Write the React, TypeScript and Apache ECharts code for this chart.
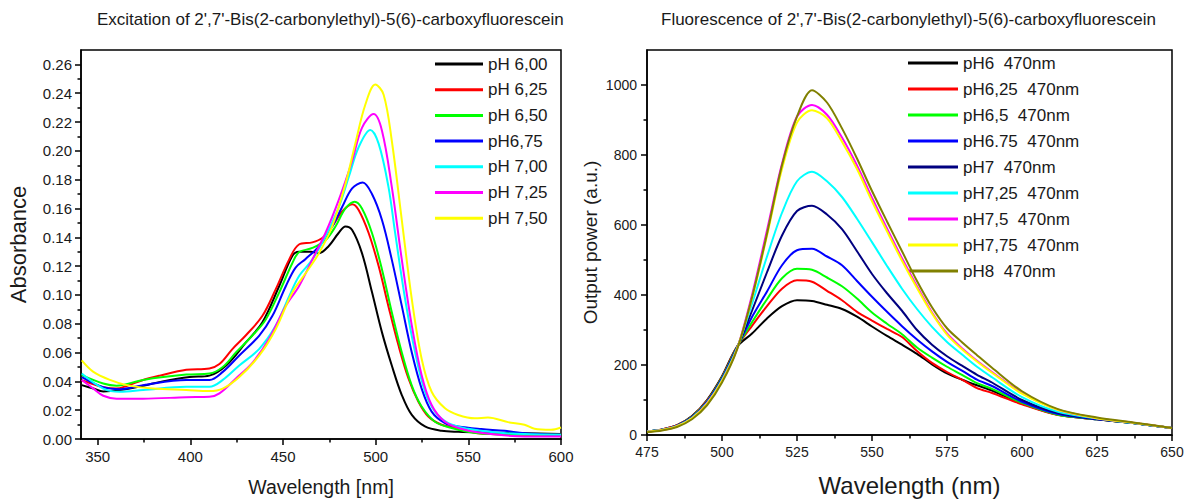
import React, { useEffect, useRef } from "react";
import * as echarts from "echarts";

const FONT = "'Liberation Sans', Arial, Helvetica, sans-serif";
const INK = "#1a1a1a";

// ---------- Left chart: excitation (absorbance vs wavelength) ----------
const excTitle = "Excitation of 2',7'-Bis(2-carbonylethyl)-5(6)-carboxyfluorescein";
const excNames = ["pH 6,00", "pH 6,25", "pH 6,50", "pH6,75", "pH 7,00", "pH 7,25", "pH 7,50"];
const excColors = ["#000000", "#ff0000", "#00ff00", "#0000ff", "#00ffff", "#ff00ff", "#ffff00"];
const excXMajor = [350, 400, 450, 500, 550, 600];
const excXMinor = [375, 425, 475, 525, 575];
const excYMajor = [0, 0.02, 0.04, 0.06, 0.08, 0.1, 0.12, 0.14, 0.16, 0.18, 0.2, 0.22, 0.24, 0.26];
const excYMinor = [0.01, 0.03, 0.05, 0.07, 0.09, 0.11, 0.13, 0.15, 0.17, 0.19, 0.21, 0.23, 0.25];

const abs600: [number, number][] = [
  [341.4, 0.0374], [347.7, 0.035], [353, 0.033], [362, 0.034], [374.5, 0.037], [385, 0.04], [399.6, 0.043],
  [410.3, 0.044], [419.3, 0.051], [430, 0.067], [438.9, 0.081], [447.9, 0.106], [455, 0.127], [458.6, 0.13],
  [465, 0.13], [469.4, 0.129], [474.7, 0.134], [480, 0.143], [483.7, 0.1475], [487.3, 0.145], [492.6, 0.129],
  [498, 0.102], [503.4, 0.074], [508.7, 0.051], [514.1, 0.0305], [519.5, 0.0167], [526.6, 0.0087],
  [535.6, 0.0057], [544.5, 0.005], [560, 0.0045], [580, 0.004], [600, 0.0035],
];
const abs625: [number, number][] = [
  [341.4, 0.0408], [347.7, 0.038], [353, 0.036], [360, 0.035], [366, 0.037], [374.5, 0.041], [383.5, 0.044],
  [397.8, 0.048], [410.3, 0.049], [415.7, 0.052], [422.8, 0.0626], [430, 0.072], [438.9, 0.0855],
  [446.1, 0.104], [453.3, 0.1245], [458.6, 0.135], [465.8, 0.1365], [471.2, 0.1395], [476.5, 0.1475],
  [481.9, 0.158], [487.3, 0.163], [490.8, 0.159], [496.2, 0.143], [501.6, 0.12], [506.9, 0.092],
  [512.3, 0.065], [517.7, 0.042], [523, 0.026], [528.4, 0.0156], [535.6, 0.0099], [544.5, 0.0076],
  [555.3, 0.004], [575, 0.0032], [600, 0.003],
];
const abs650: [number, number][] = [
  [341.4, 0.0443], [353, 0.0385], [360.2, 0.037], [374.5, 0.041], [397.8, 0.0447], [410.3, 0.0454],
  [417.5, 0.05], [424.6, 0.06], [433.6, 0.072], [440.7, 0.083], [447.9, 0.1016], [455, 0.122],
  [458.6, 0.1296], [465.8, 0.1326], [472.9, 0.138], [478.3, 0.1475], [483.7, 0.16], [488.7, 0.1647],
  [492.6, 0.16], [498, 0.143], [503.4, 0.1177], [508.7, 0.088], [514.1, 0.06], [519.5, 0.037],
  [524.8, 0.0225], [532, 0.012], [541, 0.0076], [555.3, 0.004], [575, 0.0032], [600, 0.003],
];
const abs675: [number, number][] = [
  [341.4, 0.043], [353, 0.036], [362, 0.0346], [374.5, 0.0374], [397.8, 0.041], [410.3, 0.041],
  [417.5, 0.0466], [426.4, 0.058], [437.2, 0.0718], [444.3, 0.0855], [451.5, 0.106], [456.8, 0.119],
  [462.2, 0.125], [469.4, 0.1337], [476.5, 0.1475], [481.9, 0.161], [487.3, 0.174], [493, 0.178],
  [498, 0.17], [503.4, 0.152], [508.7, 0.1245], [514.1, 0.0924], [519.5, 0.06], [524.8, 0.035],
  [530.2, 0.019], [537.4, 0.011], [544.5, 0.0087], [557, 0.0069], [569.6, 0.0057], [580.3, 0.004],
  [600, 0.003],
];
const abs700: [number, number][] = [
  [341.4, 0.0454], [353, 0.035], [362, 0.0328], [374.5, 0.034], [397.8, 0.0362], [410.3, 0.0362],
  [417.5, 0.041], [426.4, 0.051], [437.2, 0.0626], [446.1, 0.0787], [453.3, 0.099], [458.6, 0.113],
  [465.8, 0.1245], [472.9, 0.1406], [480.1, 0.161], [485.5, 0.182], [490.8, 0.2025], [497.1, 0.2145],
  [501.6, 0.205], [506.9, 0.175], [510.5, 0.143], [515.9, 0.097], [521.3, 0.06], [526.6, 0.0328],
  [532, 0.019], [539.2, 0.011], [549.9, 0.0071], [562.4, 0.0048], [580.3, 0.0034], [600, 0.003],
];
const abs725: [number, number][] = [
  [341.4, 0.041], [347.7, 0.035], [353, 0.03], [360.2, 0.028], [374.5, 0.028], [397.8, 0.029],
  [410.3, 0.0293], [415.7, 0.0317], [424.6, 0.042], [433.6, 0.053], [442.5, 0.0695], [451.5, 0.0924],
  [458.6, 0.106], [465.8, 0.1245], [472.9, 0.143], [480.1, 0.166], [487.3, 0.193], [492.6, 0.216],
  [498.9, 0.2255], [503.4, 0.214], [508.7, 0.175], [514.1, 0.1245], [519.5, 0.0787], [524.8, 0.0443],
  [530.2, 0.0236], [537.4, 0.012], [548.1, 0.0064], [562.4, 0.0034], [580.3, 0.0018], [600, 0.0018],
];
const abs750: [number, number][] = [
  [341.4, 0.0546], [347.7, 0.0466], [356.6, 0.041], [365.6, 0.0374], [379.9, 0.035], [397.8, 0.034],
  [410.3, 0.0333], [417.5, 0.035], [426.4, 0.043], [437.2, 0.058], [446.1, 0.0764], [455, 0.1016],
  [462.2, 0.115], [469.4, 0.129], [476.5, 0.1475], [483.7, 0.177], [489, 0.205], [494.4, 0.232],
  [499.8, 0.246], [504.3, 0.239], [508.7, 0.207], [514.1, 0.152], [519.5, 0.097], [524.8, 0.0557],
  [530.2, 0.0328], [537.4, 0.0213], [544.5, 0.0167], [553.5, 0.0144], [560.6, 0.0149], [571.4, 0.0117],
  [580.3, 0.0099], [585.7, 0.0071], [594.6, 0.0064], [600, 0.008],
];
const excData = [abs600, abs625, abs650, abs675, abs700, abs725, abs750];

// ---------- Right chart: fluorescence (output power vs wavelength) ----------
const flTitle = "Fluorescence of 2',7'-Bis(2-carbonylethyl)-5(6)-carboxyfluorescein";
const flNames = [
  "pH6  470nm", "pH6,25  470nm", "pH6,5  470nm", "pH6.75  470nm", "pH7  470nm",
  "pH7,25  470nm", "pH7,5  470nm", "pH7,75  470nm", "pH8  470nm",
];
const flColors = ["#000000", "#ff0000", "#00ff00", "#0000ff", "#000080", "#00ffff", "#ff00ff", "#ffff00", "#808000"];
const flXMajor = [475, 500, 525, 550, 575, 600, 625, 650];
const flXMinor = [487.5, 512.5, 537.5, 562.5, 587.5, 612.5, 637.5];
const flYMajor = [0, 200, 400, 600, 800, 1000];
const flYMinor = [100, 300, 500, 700, 900];

const flWavelength = [475, 480, 485, 490, 495, 500, 505, 510, 515, 520, 525, 530, 535, 540, 545, 550, 555, 560, 565, 570, 575, 580, 585, 590, 600, 612, 625, 637, 650];
const flPH600 = [10, 16, 28, 54, 100, 168, 252, 290, 333, 368, 385, 383, 372, 360, 338, 310, 283, 258, 232, 202, 176, 158, 142, 127, 90, 58, 45, 34, 20];
const flPH625 = [10, 16, 28, 53, 98, 166, 252, 312, 368, 418, 442, 438, 412, 385, 352, 327, 303, 280, 240, 206, 180, 158, 134, 120, 88, 57, 45, 34, 20];
const flPH650 = [10, 15, 27, 52, 96, 164, 251, 322, 388, 448, 475, 472, 450, 425, 390, 350, 318, 288, 250, 221, 195, 172, 148, 132, 92, 58, 45, 34, 20];
const flPH675 = [10, 15, 27, 51, 95, 162, 250, 337, 410, 485, 528, 532, 510, 485, 440, 395, 352, 311, 273, 239, 209, 184, 158, 140, 95, 60, 45, 34, 20];
const flPH700 = [10, 15, 26, 50, 93, 160, 249, 355, 465, 570, 640, 655, 630, 588, 525, 460, 405, 355, 300, 258, 225, 198, 172, 150, 100, 63, 46, 34, 20];
const flPH725 = [10, 15, 26, 49, 92, 158, 248, 375, 510, 635, 725, 752, 725, 680, 618, 551, 483, 418, 360, 309, 266, 230, 195, 165, 108, 66, 47, 34, 20];
const flPH750 = [9, 14, 25, 48, 90, 155, 246, 400, 585, 775, 910, 943, 915, 850, 770, 678, 590, 505, 425, 350, 290, 248, 212, 180, 120, 72, 48, 35, 20];
const flPH775 = [9, 14, 25, 48, 89, 154, 246, 390, 570, 760, 893, 928, 905, 838, 760, 668, 582, 498, 420, 347, 287, 245, 210, 178, 118, 72, 48, 35, 20];
const flPH800 = [8, 13, 23, 45, 85, 150, 244, 393, 575, 771, 910, 985, 950, 876, 790, 697, 610, 525, 440, 365, 305, 265, 228, 192, 125, 74, 50, 36, 20];
const flData = [flPH600, flPH625, flPH650, flPH675, flPH700, flPH725, flPH750, flPH775, flPH800];

const axisLineStyle = { color: "#000", width: 1.5 };

function mainAxis(o: any) {
  return {
    type: "value",
    gridIndex: o.grid,
    position: o.position,
    min: o.min,
    max: o.max,
    axisLine: { show: true, onZero: false, lineStyle: axisLineStyle },
    axisTick: { show: true, inside: false, length: 6, lineStyle: axisLineStyle, customValues: o.ticks },
    axisLabel: {
      show: true,
      customValues: o.ticks,
      color: INK,
      fontSize: o.labelSize,
      fontFamily: FONT,
      margin: o.margin,
      formatter: o.fmt,
    },
    splitLine: { show: false },
    name: o.name,
    nameLocation: "middle",
    nameGap: o.nameGap,
    nameTextStyle: { fontSize: o.nameSize, color: INK, fontFamily: FONT },
  };
}
function minorAxis(o: any) {
  return {
    type: "value",
    gridIndex: o.grid,
    position: o.position,
    min: o.min,
    max: o.max,
    axisLine: { show: false, onZero: false },
    axisTick: { show: true, inside: false, length: 3.5, lineStyle: axisLineStyle, customValues: o.ticks },
    axisLabel: { show: false },
    splitLine: { show: false },
  };
}

export default function App() {
  const ref = useRef<HTMLDivElement>(null);
  useEffect(() => {
    if (!ref.current) return;
    const chart = echarts.init(ref.current, undefined, { renderer: "svg" });
    const excSeries = excNames.map((name, i) => ({
      type: "line",
      name,
      xAxisIndex: 0,
      yAxisIndex: 0,
      data: excData[i],
      symbol: "none",
      showSymbol: false,
      smooth: 0.35,
      lineStyle: { width: 2, color: excColors[i] },
      itemStyle: { color: excColors[i] },
      z: 2 + i,
    }));
    const flSeries = flNames.map((name, i) => ({
      type: "line",
      name,
      xAxisIndex: 2,
      yAxisIndex: 2,
      data: flWavelength.map((w, k) => [w, flData[i][k]]),
      symbol: "none",
      showSymbol: false,
      smooth: 0.3,
      lineStyle: { width: 2, color: flColors[i] },
      itemStyle: { color: flColors[i] },
      z: 2 + i,
    }));
    chart.setOption({
      animation: false,
      backgroundColor: "#ffffff",
      title: [
        { text: excTitle, left: 97, top: 11, padding: 0, textStyle: { fontSize: 17, fontWeight: "normal", color: INK, fontFamily: FONT } },
        { text: flTitle, left: 661, top: 11, padding: 0, textStyle: { fontSize: 17, fontWeight: "normal", color: INK, fontFamily: FONT } },
      ],
      grid: [
        { left: 81, top: 50, width: 480, height: 391, show: true, borderColor: "#000", borderWidth: 1.5, backgroundColor: "transparent" },
        { left: 647, top: 50, width: 525, height: 388, show: true, borderColor: "#000", borderWidth: 1.5, backgroundColor: "transparent" },
      ],
      legend: [
        {
          orient: "vertical",
          left: 435,
          top: 54,
          padding: 0,
          itemWidth: 48,
          itemHeight: 3,
          itemGap: 5.7,
          icon: "rect",
          data: excNames,
          textStyle: { fontSize: 17, color: INK, fontFamily: FONT, lineHeight: 20 },
        },
        {
          orient: "vertical",
          left: 908,
          top: 53,
          padding: 0,
          itemWidth: 50,
          itemHeight: 3,
          itemGap: 6,
          icon: "rect",
          data: flNames,
          textStyle: { fontSize: 17, color: INK, fontFamily: FONT, lineHeight: 20 },
        },
      ],
      xAxis: [
        mainAxis({ grid: 0, position: "bottom", min: 341, max: 600, ticks: excXMajor, labelSize: 15, margin: 10, name: "Wavelength [nm]", nameGap: 38, nameSize: 19.5 }),
        minorAxis({ grid: 0, position: "bottom", min: 341, max: 600, ticks: excXMinor }),
        mainAxis({ grid: 1, position: "bottom", min: 475, max: 650, ticks: flXMajor, labelSize: 14, margin: 10, name: "Wavelength (nm)", nameGap: 38, nameSize: 24 }),
        minorAxis({ grid: 1, position: "bottom", min: 475, max: 650, ticks: flXMinor }),
      ],
      yAxis: [
        mainAxis({ grid: 0, position: "left", min: 0, max: 0.27, ticks: excYMajor, labelSize: 15, margin: 9, name: "Absorbance", nameGap: 52, nameSize: 22, fmt: (v: number) => v.toFixed(2) }),
        minorAxis({ grid: 0, position: "left", min: 0, max: 0.27, ticks: excYMinor }),
        mainAxis({ grid: 1, position: "left", min: 0, max: 1100, ticks: flYMajor, labelSize: 14, margin: 10, name: "Output power (a.u.)", nameGap: 47, nameSize: 19, fmt: (v: number) => String(v) }),
        minorAxis({ grid: 1, position: "left", min: 0, max: 1100, ticks: flYMinor }),
      ],
      series: [...excSeries, ...flSeries],
    });
    return () => chart.dispose();
  }, []);
  return (
    <div
      ref={ref}
      style={{ position: "fixed", left: 0, top: 0, width: 1187, height: 502, background: "#fff" }}
    />
  );
}
